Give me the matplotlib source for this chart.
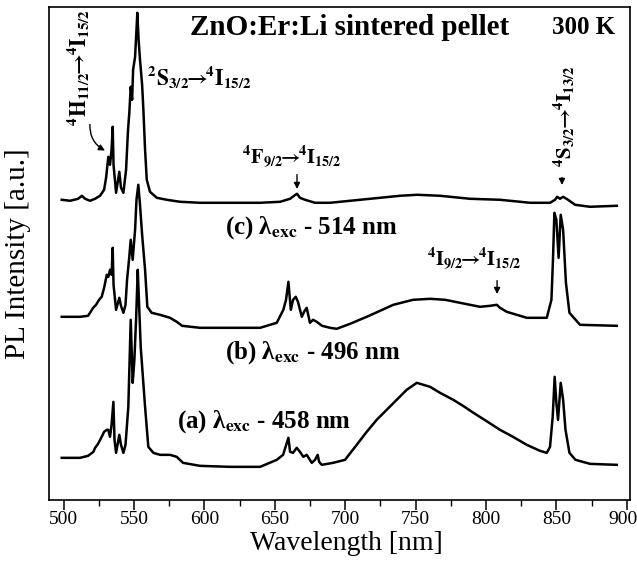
import matplotlib
matplotlib.use("Agg")
import matplotlib.pyplot as plt
from matplotlib.ticker import MultipleLocator
from matplotlib.transforms import ScaledTranslation

plt.rcParams['font.family'] = ['Liberation Serif', 'DejaVu Serif']
plt.rcParams['mathtext.fontset'] = 'stix'

# wavelength [nm] / PL intensity [a.u.]
wl_c = [498.7, 504.6, 510.3, 513.1, 515.3, 518.8, 522.4, 525.9, 528.8, 530.2, 531.8, 533.0,
        534.1, 534.9, 535.5, 537.3, 539.6, 540.8, 542.5, 544.4, 545.8, 546.7, 547.7, 548.7,
        549.4, 550.8, 551.8, 552.4, 553.3, 554.3, 555.8, 556.7, 557.9, 559.1, 561.4, 566.2,
        573.3, 582.7, 596.9, 618.3, 639.6, 653.8, 660.9, 663.7, 665.8, 667.9, 671.5, 678.6,
        689.3, 703.5, 724.8, 739.0, 751.1, 767.4, 788.7, 810.0, 831.3, 845.5, 849.1, 850.5,
        852.6, 854.8, 858.3, 863.3, 873.9, 892.9]
pl_c = [300, 299, 301, 304, 301, 299, 301, 304, 310, 322, 343, 335,
        350, 373, 335, 307, 328, 312, 307, 330, 370, 387, 413, 400,
        430, 443, 470, 487, 460, 440, 415, 390, 350, 320, 308, 302,
        300, 298, 297, 297, 297, 298, 301, 304, 306, 302, 300, 297,
        297, 299, 302, 304, 305, 304, 301, 300, 297, 297, 300, 303,
        301, 303, 300, 295, 293, 294]

wl_b = [498.7, 511.7, 517.4, 518.8, 521.0, 523.1, 525.2, 527.1, 528.8, 530.7, 531.8, 533.0,
        534.1, 534.9, 535.5, 537.3, 539.6, 540.8, 542.5, 544.0, 545.1, 546.7, 547.7, 549.1,
        550.8, 551.8, 553.1, 554.3, 555.8, 557.9, 559.5, 562.6, 568.5, 575.6, 580.4, 584.2,
        596.9, 618.3, 639.6, 651.4, 656.1, 658.0, 659.7, 661.4, 663.0, 664.9, 666.5, 669.2,
        670.8, 672.7, 675.0, 677.2, 679.8, 683.6, 689.3, 694.0, 703.5, 715.3, 724.8, 734.2,
        748.2, 760.3, 771.0, 781.6, 795.8, 802.9, 807.7, 810.0, 814.8, 829.0, 843.2, 846.5,
        847.6, 848.6, 850.0, 851.6, 853.1, 854.8, 856.8, 859.3, 866.8, 892.9]
pl_b = [183, 183, 184, 187, 192, 195, 200, 203, 212, 225, 223, 230,
        225, 252, 215, 190, 202, 194, 187, 195, 220, 243, 260, 240,
        270, 300, 315, 295, 265, 230, 193, 187, 185, 182, 178, 174,
        172, 172, 172, 177, 190, 200, 218, 190, 200, 203, 198, 183,
        188, 192, 177, 180, 178, 174, 172, 171, 176, 183, 189, 195,
        200, 201, 200, 197, 193, 194, 195, 192, 188, 182, 182, 200,
        240, 287, 280, 242, 285, 270, 217, 187, 175, 174]

wl_a = [498.7, 511.7, 517.4, 521.2, 522.4, 524.5, 527.1, 528.8, 530.7, 531.8, 533.0, 534.1,
        535.4, 536.2, 537.3, 539.6, 540.8, 542.5, 544.0, 546.0, 547.7, 549.1, 550.3, 551.5,
        552.7, 553.6, 554.8, 556.5, 557.9, 560.2, 563.8, 568.5, 575.6, 580.4, 584.9, 596.9,
        618.3, 639.6, 651.4, 655.9, 659.7, 660.9, 663.0, 665.6, 667.9, 670.3, 672.7, 676.3,
        678.6, 680.5, 681.5, 683.4, 691.4, 699.9, 708.2, 715.3, 722.4, 729.5, 736.6, 743.7,
        750.9, 760.3, 767.4, 776.8, 783.7, 791.1, 800.1, 810.0, 819.2, 829.0, 838.4, 843.2,
        845.5, 847.4, 848.8, 850.0, 851.2, 853.1, 854.8, 856.5, 859.3, 863.6, 873.9, 892.9]
pl_a = [42, 42, 44, 48, 52, 56, 63, 68, 70, 70, 63, 75,
        98, 60, 47, 65, 55, 47, 55, 93, 180, 117, 140, 180,
        230, 197, 153, 120, 93, 53, 47, 45, 45, 43, 37, 34,
        33, 33, 40, 45, 62, 48, 47, 52, 48, 43, 45, 37,
        40, 45, 38, 35, 37, 40, 55, 68, 80, 90, 100, 110,
        117, 113, 107, 100, 94, 87, 79, 70, 63, 55, 49, 47,
        53, 83, 123, 97, 80, 117, 100, 70, 47, 40, 36, 35]

x_ticks = [500, 550, 600, 650, 700, 750, 800, 850, 900]

fig = plt.figure(figsize=(6.37, 5.61), dpi=100)
ax = fig.add_axes([0.077, 0.109, 0.912, 0.879])

for wl, pl in [(wl_a, pl_a), (wl_b, pl_b), (wl_c, pl_c)]:
    ax.plot(wl, pl, color='black', lw=1.8)

ax.set_xlim(489.7, 902.3)
ax.set_ylim(0, 493)
ax.set_yticks([])
ax.set_xticks(x_ticks)
ax.set_xticklabels([str(t) for t in x_ticks])
ax.xaxis.set_minor_locator(MultipleLocator(25))
ax.tick_params(axis='x', which='major', direction='out', length=7, width=1.1, labelsize=14, pad=1)
ax.tick_params(axis='x', which='minor', direction='out', length=4, width=1.0)
for s in ax.spines.values():
    s.set_linewidth(1.2)
# keep the last tick label inside the canvas
last = ax.get_xticklabels()[-1]
last.set_transform(last.get_transform() + ScaledTranslation(-3 / 72, 0, fig.dpi_scale_trans))

# axis titles placed in figure pixels to match the reference
fig.text(346 / 637, 1 - 544 / 561, 'Wavelength [nm]', fontsize=20, ha='center', va='center')
fig.text(18 / 637, 1 - 254 / 561, 'PL Intensity [a.u.]', fontsize=21, rotation=90,
         ha='center', va='center')

bold = dict(fontweight='bold', color='black')
ax.text(590, 472, 'ZnO:Er:Li sintered pellet', fontsize=21, ha='left', va='center', **bold)
ax.text(847, 472, '300 K', fontsize=18, ha='left', va='center', **bold)

ax.text(559.3, 422, r'$\mathbf{^{2}S_{3/2}\!\!\rightarrow\!\!^{4}I_{15/2}}$', fontsize=15.5, ha='left', va='center')
ax.text(626.8, 343, r'$\mathbf{^{4}F_{9/2}\!\!\rightarrow\!\!^{4}I_{15/2}}$', fontsize=14.5, ha='left', va='center')
ax.text(758, 241, r'$\mathbf{^{4}I_{9/2}\!\!\rightarrow\!\!^{4}I_{15/2}}$', fontsize=14.5, ha='left', va='center')
ax.text(510.3, 432, r'$\mathbf{^{4}H_{11/2}\!\!\rightarrow\!\!^{4}I_{15/2}}$', fontsize=15.5, rotation=90,
        ha='center', va='center')
ax.text(855.5, 383, r'$\mathbf{^{4}S_{3/2}\!\!\rightarrow\!\!^{4}I_{13/2}}$', fontsize=15, rotation=90,
        ha='center', va='center')

ax.text(614.7, 272, r'(c) λ$_{\mathbf{exc}}$ - 514 nm', fontsize=18, ha='left', va='center', **bold)
ax.text(614.7, 147, r'(b) λ$_{\mathbf{exc}}$ - 496 nm', fontsize=18, ha='left', va='center', **bold)
ax.text(580.6, 78, r'(a) λ$_{\mathbf{exc}}$ - 458 nm', fontsize=18, ha='left', va='center', **bold)

arr = dict(arrowstyle='-|>', color='black', lw=1.0, mutation_scale=9)
ax.annotate('', xy=(531.2, 348), xytext=(518.8, 378),
            arrowprops=dict(connectionstyle='arc3,rad=0.35', **arr))
ax.annotate('', xy=(665.8, 308), xytext=(665.8, 328), arrowprops=arr)
ax.annotate('', xy=(807.9, 203), xytext=(807.9, 222), arrowprops=arr)
ax.annotate('', xy=(854.0, 312), xytext=(854.0, 325), arrowprops=arr)

fig.savefig('out.png', dpi=100)
